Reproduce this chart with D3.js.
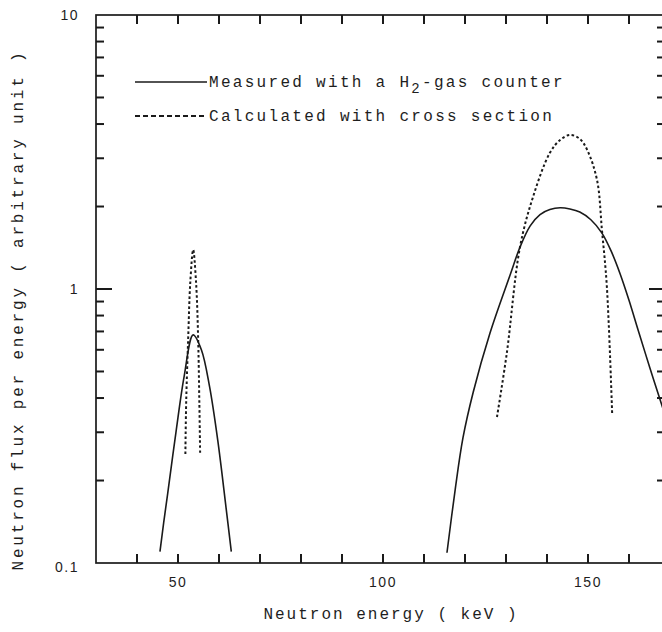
<!DOCTYPE html>
<html>
<head>
<meta charset="utf-8">
<script src="https://cdn.jsdelivr.net/npm/d3@7"></script>
<style>
  body { margin: 0; background: #fff; }
  .mono { font-family: "Courier New", "Liberation Mono", monospace; fill: #1e1e1e; }
  .num { font-family: "Liberation Sans", Arial, sans-serif; fill: #1e1e1e; }
</style>
</head>
<body>
<div id="chart"></div>
<script>
// Datos (energia en keV, flujo en unidades arbitrarias)
const measuredLowE = [45.6, 46.5, 47.5, 49.5, 51.5, 53.7, 55.7, 57.7, 59.7, 61.7, 63.0];
const measuredLowF = [0.11, 0.14, 0.18, 0.30, 0.48, 0.68, 0.60, 0.44, 0.28, 0.16, 0.11];

const measuredHighE = [115.6, 117.6, 119.5, 122.0, 126.1, 131.0, 133.4, 135.9, 138.3, 140.7, 143.2, 145.6, 148.0, 150.7, 153.4, 155.6, 157.8, 160.0, 162.2, 165.1, 168.0, 170];
const measuredHighF = [0.109, 0.185, 0.286, 0.42, 0.691, 1.125, 1.42, 1.70, 1.87, 1.95, 1.98, 1.96, 1.91, 1.79, 1.60, 1.38, 1.14, 0.91, 0.71, 0.515, 0.377, 0.305];

const calcLowE = [51.8, 52.0, 52.5, 53.0, 53.7, 54.4, 54.9, 55.2, 55.4];
const calcLowF = [0.25, 0.39, 0.67, 1.06, 1.39, 1.06, 0.67, 0.39, 0.25];

const calcHighE = [127.8, 130.2, 133.4, 136.6, 140.7, 143.2, 145.6, 148.0, 149.8, 152.2, 153.4, 154.6, 155.9];
const calcHighF = [0.341, 0.584, 1.42, 2.17, 3.14, 3.50, 3.65, 3.53, 3.22, 2.50, 1.64, 1.02, 0.347];

const xTicks = [40, 50, 60, 70, 80, 90, 100, 110, 120, 130, 140, 150, 160];
const xLabels = [50, 100, 150];
const yMinor = [0.2, 0.3, 0.4, 0.5, 0.6, 0.7, 0.8, 0.9, 2, 3, 4, 5, 6, 7, 8, 9];
const yMajor = [1];
const yLabels = ["0.1", "1", "10"];
const legendTexts = ["Measured with a H", "Calculated with cross section"];

const width = 662;
const height = 632;
const margin = {left: 96, top: 15, right: 670, bottom: 563};
const ink = "#1a1a1a";

const svg = d3.select("#chart").append("svg")
    .attr("width", width)
    .attr("height", height);

const x = d3.scaleLinear().domain([30, 170]).range([margin.left, margin.right]);
const y = d3.scaleLog().domain([0.1, 10]).range([margin.bottom, margin.top]);

svg.append("defs").append("clipPath").attr("id", "clip")
    .append("rect")
    .attr("x", margin.left).attr("y", margin.top)
    .attr("width", margin.right - margin.left)
    .attr("height", margin.bottom - margin.top);

// Marco
svg.append("rect")
    .attr("x", x(30)).attr("y", y(10))
    .attr("width", x(170) - x(30)).attr("height", y(0.1) - y(10))
    .attr("fill", "none").attr("stroke", ink).attr("stroke-width", 1.7);

// Ticks hacia dentro
const ticks = svg.append("g").attr("stroke", ink).attr("stroke-width", 2);

ticks.selectAll("line.tb").data(xTicks).enter().append("line")
    .attr("class", "tb")
    .attr("x1", d => Math.round(x(d))).attr("x2", d => Math.round(x(d)))
    .attr("y1", y(0.1)).attr("y2", y(0.1) - 9);

ticks.selectAll("line.tt").data(xTicks).enter().append("line")
    .attr("class", "tt")
    .attr("x1", d => Math.round(x(d))).attr("x2", d => Math.round(x(d)))
    .attr("y1", y(10)).attr("y2", y(10) + 9);

const yTicks = yMinor.map(v => ({v: v, len: 8})).concat(yMajor.map(v => ({v: v, len: 16})));

ticks.selectAll("line.tl").data(yTicks).enter().append("line")
    .attr("class", "tl")
    .attr("x1", x(30)).attr("x2", d => x(30) + d.len)
    .attr("y1", d => y(d.v)).attr("y2", d => y(d.v));

// eje derecho recortado por el borde de la imagen: ticks algo mas largos
ticks.selectAll("line.tr").data(yTicks).enter().append("line")
    .attr("class", "tr")
    .attr("x1", x(170)).attr("x2", d => x(170) - d.len - 5)
    .attr("y1", d => y(d.v)).attr("y2", d => y(d.v));

// Etiquetas
svg.selectAll(".xlab")
    .data(xLabels)
    .enter()
    .append("text")
    .attr("class", "num")
    .attr("x", d => x(d))
    .attr("y", y(0.1) + 24)
    .attr("text-anchor", "middle")
    .attr("font-size", 14)
    .attr("letter-spacing", 1.5)
    .text(d => d);

svg.selectAll(".ylab")
    .data(yLabels)
    .enter()
    .append("text")
    .attr("class", "num")
    .attr("x", 79)
    .attr("y", d => y(+d) + (d === "0.1" ? 9 : 5))
    .attr("text-anchor", "end")
    .attr("font-size", 14)
    .attr("letter-spacing", 1.5)
    .text(d => d);

// Curvas
const line = d3.line()
    .x(d => x(d[0]))
    .y(d => y(d[1]))
    .curve(d3.curveCatmullRom.alpha(0.5));

const plot = svg.append("g").attr("clip-path", "url(#clip)");

const series = [
    {e: measuredLowE, f: measuredLowF, dash: null},
    {e: measuredHighE, f: measuredHighF, dash: null},
    {e: calcLowE, f: calcLowF, dash: "2.6,2.4"},
    {e: calcHighE, f: calcHighF, dash: "2.6,2.4"}
];

plot.selectAll("path")
    .data(series)
    .enter()
    .append("path")
    .attr("d", s => line(d3.zip(s.e, s.f)))
    .attr("fill", "none")
    .attr("stroke", ink)
    .attr("stroke-width", s => s.dash ? 2 : 1.6)
    .attr("stroke-dasharray", s => s.dash);

// Leyenda
svg.append("line")
    .attr("x1", 135).attr("x2", 207).attr("y1", 82).attr("y2", 82)
    .attr("stroke", ink).attr("stroke-width", 1.5);
svg.append("line")
    .attr("x1", 135).attr("x2", 207).attr("y1", 116).attr("y2", 116)
    .attr("stroke", ink).attr("stroke-width", 1.8)
    .attr("stroke-dasharray", "5,3");

const t1 = svg.append("text")
    .attr("class", "mono")
    .attr("x", 209).attr("y", 87)
    .attr("font-size", 16).attr("letter-spacing", 2.3);
t1.append("tspan").text(legendTexts[0]);
t1.append("tspan").attr("dy", 6).attr("font-size", 14).text("2");
t1.append("tspan").attr("dy", -6).text("-gas counter");

svg.append("text")
    .attr("class", "mono")
    .attr("x", 209).attr("y", 121)
    .attr("font-size", 16).attr("letter-spacing", 2.3)
    .text(legendTexts[1]);

// Titulos de ejes
svg.append("text")
    .attr("class", "mono")
    .attr("x", 391).attr("y", 619)
    .attr("text-anchor", "middle")
    .attr("font-size", 16).attr("letter-spacing", 2)
    .text("Neutron energy ( keV )");

svg.append("text")
    .attr("class", "mono")
    .attr("transform", "translate(23,310) rotate(-90)")
    .attr("text-anchor", "middle")
    .attr("font-size", 16).attr("letter-spacing", 2.8)
    .text("Neutron flux per energy ( arbitrary unit )");
</script>
</body>
</html>
